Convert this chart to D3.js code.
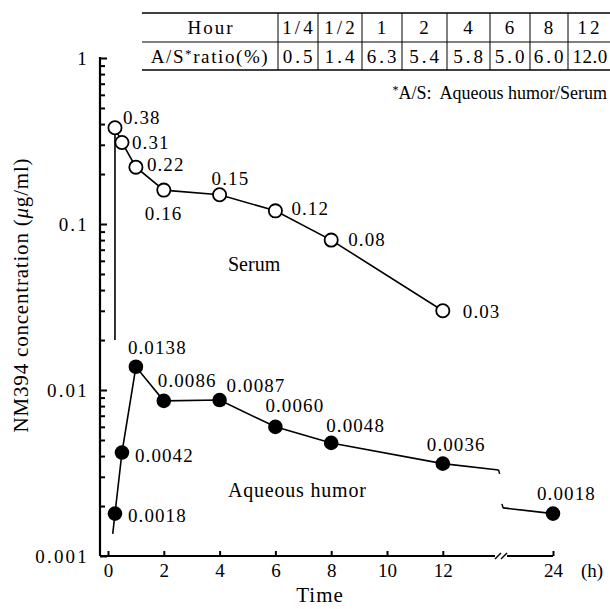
<!DOCTYPE html>
<html>
<head>
<meta charset="utf-8">
<script src="https://cdn.jsdelivr.net/npm/d3@7"></script>
<style>
body { margin: 0; background: #fff; }
svg { display: block; }
text { font-family: "Liberation Serif", "DejaVu Serif", serif; fill: #000; }
</style>
</head>
<body>
<div id="chart"></div>
<script>
// data
var serumHours = [0.25, 0.5, 1, 2, 4, 6, 8, 12];
var serum = [0.38, 0.31, 0.22, 0.16, 0.15, 0.12, 0.08, 0.03];
var serumLabels = ["0.38", "0.31", "0.22", "0.16", "0.15", "0.12", "0.08", "0.03"];

var aqueousHours = [0.25, 0.5, 1, 2, 4, 6, 8, 12, 24];
var aqueous = [0.0018, 0.0042, 0.0138, 0.0086, 0.0087, 0.0060, 0.0048, 0.0036, 0.0018];
var aqueousLabels = ["0.0018", "0.0042", "0.0138", "0.0086", "0.0087", "0.0060", "0.0048", "0.0036", "0.0018"];

// short line pieces: drop toward time 0 and the two ends at the axis break
var serumLeadHours = [0.25, 0.25];
var serumLead = [0.38, 0.02];
var aqueousLeadHours = [0.25, 0.17];
var aqueousLead = [0.0018, 0.00136];
var breakLeftHours = [12, 14];
var breakLeft = [0.0036, 0.0033];
var breakRightHours = [22.2, 24];
var breakRight = [0.00195, 0.0018];

var tableHours = ["1/4", "1/2", "1", "2", "4", "6", "8", "12"];
var tableRatios = ["0.5", "1.4", "6.3", "5.4", "5.8", "5.0", "6.0", "12.0"];

var xTicks = [0, 2, 4, 6, 8, 10, 12, 24];
var yTicks = [1, 0.1, 0.01, 0.001];
var yTickLabels = ["1", "0.1", "0.01", "0.001"];

// label offsets from the points (layout only)
var serumOff = [[8, -10], [10, 0], [11, -3], [-19, 23], [-8, -16], [16, -2], [17, -1], [20, 1]];
var aqueousOff = [[13, 2], [13, 3], [-8, -19], [-6, -20], [7, -15], [-10, -21], [-5, -17], [-16, -19], [-16, -20]];

var W = 610, H = 609;
var svg = d3.select("#chart").append("svg")
    .attr("width", W)
    .attr("height", H);

var x = d3.scaleLinear().domain([0, 14, 22.2, 24]).range([108, 498.6, 503, 553]);
var y = d3.scaleLog().domain([0.001, 1]).range([556, 58]);
var axisX = 100, axisY = 556;

function pairs(hs, vs) {
    return hs.map(function (h, i) { return [h, vs[i]]; });
}
var line = d3.line()
    .x(function (d) { return x(d[0]); })
    .y(function (d) { return y(d[1]); });

// ---- y axis ----
var minorTicks = [];
[0.001, 0.01, 0.1].forEach(function (dec) {
    for (var k = 2; k <= 9; k++) minorTicks.push(dec * k);
});

var gy = svg.append("g").attr("transform", "translate(" + axisX + ",0)");
gy.append("g")
    .call(d3.axisRight(y).tickValues(minorTicks).tickSize(5).tickFormat(""))
    .call(function (g) { g.select(".domain").remove(); });
gy.append("g")
    .call(d3.axisRight(y).tickValues(yTicks).tickSize(7).tickFormat(""))
    .call(function (g) { g.select(".domain").remove(); });
gy.selectAll(".tick line").attr("stroke", "#000").attr("stroke-width", 2);

gy.append("g")
    .call(d3.axisLeft(y).tickValues(yTicks).tickSize(0).tickPadding(11)
        .tickFormat(function (d, i) { return yTickLabels[i]; }))
    .call(function (g) { g.select(".domain").remove(); })
    .selectAll("text")
    .style("font-size", "19px")
    .style("letter-spacing", "2.2px")
    .attr("dy", "0.35em");

gy.append("line")
    .attr("x1", 0).attr("x2", 0)
    .attr("y1", y(1) - 1).attr("y2", axisY)
    .attr("stroke", "#000").attr("stroke-width", 2.2);

// ---- x axis ----
var gx = svg.append("g").attr("transform", "translate(0," + axisY + ")");
gx.append("g")
    .call(d3.axisTop(x).tickValues(xTicks).tickSize(5).tickFormat(""))
    .call(function (g) { g.select(".domain").remove(); })
    .selectAll(".tick line").attr("stroke", "#000").attr("stroke-width", 2);
gx.append("g")
    .call(d3.axisBottom(x).tickValues(xTicks).tickSize(0).tickPadding(8))
    .call(function (g) { g.select(".domain").remove(); })
    .selectAll("text")
    .style("font-size", "19px");

gx.append("path")
    .attr("d", "M" + axisX + ",0H495M507,0H" + x(24))
    .attr("fill", "none").attr("stroke", "#000").attr("stroke-width", 2.2);
gx.selectAll(".brk")
    .data([495, 501])
    .enter().append("line")
    .attr("x1", function (d) { return d; }).attr("y1", 3)
    .attr("x2", function (d) { return d + 6; }).attr("y2", -3)
    .attr("stroke", "#000").attr("stroke-width", 1.5);

svg.append("text").attr("x", 592).attr("y", 577)
    .attr("text-anchor", "middle").style("font-size", "19px").text("(h)");
svg.append("text").attr("x", 320).attr("y", 602)
    .attr("text-anchor", "middle").style("font-size", "21px")
    .style("letter-spacing", "1px").text("Time");

var title = svg.append("text")
    .attr("transform", "translate(28,295) rotate(-90)")
    .attr("text-anchor", "middle")
    .style("font-size", "21px")
    .style("letter-spacing", "0.8px");
title.append("tspan").text("NM394 concentration (");
title.append("tspan").style("font-style", "italic").text("\u03bc");
title.append("tspan").text("g/ml)");

// ---- lines ----
function drawLine(hs, vs) {
    svg.append("path")
        .datum(pairs(hs, vs))
        .attr("d", line)
        .attr("fill", "none")
        .attr("stroke", "#000")
        .attr("stroke-width", 1.6);
}
drawLine(serumLeadHours, serumLead);
drawLine(serumHours, serum);
drawLine(aqueousLeadHours, aqueousLead);
drawLine(aqueousHours.slice(0, 8), aqueous.slice(0, 8));
drawLine(breakLeftHours, breakLeft);
drawLine(breakRightHours, breakRight);

// little hooks at the cut ends of the aqueous line
var hooks = [[breakLeftHours[1], breakLeft[1], 1], [breakRightHours[0], breakRight[0], -1]];
svg.selectAll(".hook")
    .data(hooks)
    .enter().append("line")
    .attr("x1", function (d) { return x(d[0]); })
    .attr("y1", function (d) { return y(d[1]); })
    .attr("x2", function (d) { return x(d[0]) + d[2] * 1; })
    .attr("y2", function (d) { return y(d[1]) + d[2] * 4; })
    .attr("stroke", "#000").attr("stroke-width", 1.5);

// ---- points ----
svg.selectAll(".serum")
    .data(pairs(serumHours, serum))
    .enter().append("circle")
    .attr("cx", function (d) { return x(d[0]); })
    .attr("cy", function (d) { return y(d[1]); })
    .attr("r", 6.6)
    .attr("fill", "#fff")
    .attr("stroke", "#000")
    .attr("stroke-width", 1.8);

svg.selectAll(".aq")
    .data(pairs(aqueousHours, aqueous))
    .enter().append("circle")
    .attr("cx", function (d) { return x(d[0]); })
    .attr("cy", function (d) { return y(d[1]); })
    .attr("r", 7.3)
    .attr("fill", "#000");

// ---- value labels ----
function labels(hs, vs, texts, off) {
    svg.selectAll(null)
        .data(texts)
        .enter().append("text")
        .attr("x", function (d, i) { return x(hs[i]) + off[i][0]; })
        .attr("y", function (d, i) { return y(vs[i]) + off[i][1] + 6.5; })
        .style("font-size", "19px")
        .style("letter-spacing", "1.1px")
        .text(function (d) { return d; });
}
labels(serumHours, serum, serumLabels, serumOff);
labels(aqueousHours, aqueous, aqueousLabels, aqueousOff);

svg.append("text").attr("x", 228).attr("y", 271)
    .style("font-size", "20px").text("Serum");
svg.append("text").attr("x", 228).attr("y", 497)
    .style("font-size", "20px").style("letter-spacing", "0.8px").text("Aqueous humor");

// ---- table ----
var colEdges = [278, 318, 362, 402, 447, 490, 530, 568, 610];
var rowLines = [13, 42, 70];
svg.selectAll(".hl")
    .data(rowLines)
    .enter().append("line")
    .attr("x1", 142).attr("x2", 610)
    .attr("y1", function (d) { return d; }).attr("y2", function (d) { return d; })
    .attr("stroke", "#000")
    .attr("stroke-width", function (d, i) { return i === 1 ? 1 : 1.5; });
svg.selectAll(".vl")
    .data(colEdges.slice(0, 8))
    .enter().append("line")
    .attr("x1", function (d) { return d; }).attr("x2", function (d) { return d; })
    .attr("y1", rowLines[0]).attr("y2", rowLines[2])
    .attr("stroke", "#000").attr("stroke-width", 1);

svg.append("text").attr("x", 211).attr("y", 34)
    .attr("text-anchor", "middle").style("font-size", "19px")
    .style("letter-spacing", "2px").text("Hour");
var rt = svg.append("text").attr("x", 210).attr("y", 63)
    .attr("text-anchor", "middle").style("font-size", "19px")
    .style("letter-spacing", "1.6px");
rt.append("tspan").text("A/S");
rt.append("tspan").attr("dy", -5).style("font-size", "13px").text("*");
rt.append("tspan").attr("dy", 5).text("ratio(%)");

function tableRow(vals, yy) {
    svg.selectAll(null)
        .data(vals)
        .enter().append("text")
        .attr("x", function (d, i) { return (colEdges[i] + colEdges[i + 1]) / 2 + 1; })
        .attr("y", yy)
        .attr("text-anchor", "middle")
        .style("font-size", "19px")
        .style("letter-spacing", function (d) { return d.length > 3 ? "0.5px" : "3px"; })
        .text(function (d) { return d; });
}
tableRow(tableHours, 34);
tableRow(tableRatios, 63);

var fn = svg.append("text").attr("x", 607).attr("y", 99)
    .attr("text-anchor", "end").style("font-size", "18px")
    .style("white-space", "pre");
fn.append("tspan").attr("dy", -5).style("font-size", "12px").text("*");
fn.append("tspan").attr("dy", 5).text("A/S:  Aqueous humor/Serum");
</script>
</body>
</html>
